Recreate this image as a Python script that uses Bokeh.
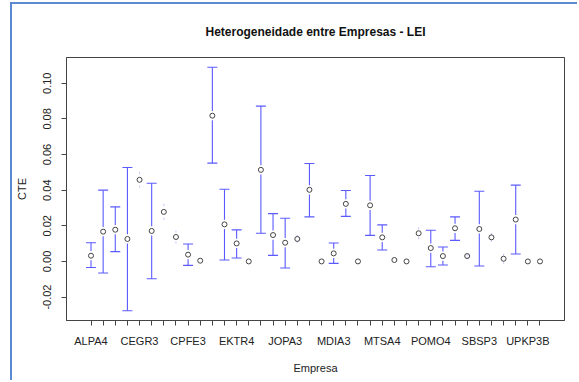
import numpy as np
from bokeh.plotting import figure
from bokeh.models import FixedTicker, Range1d, NumeralTickFormatter
from bokeh.embed import file_html
from bokeh.resources import INLINE

empresas = ["ALPA4", "AMAR3", "BRKM5", "CCRO3", "CEGR3", "CESP6", "CGAS5", "COCE5",
            "CPFE3", "CSMG3", "CSNA3", "EGIE3", "EKTR4", "ENBR3", "GGBR4", "ITSA4",
            "JOPA3", "KLBN11", "LIGT3", "LREN3", "MDIA3", "MGLU3", "MRFG3", "MRVE3",
            "MTSA4", "NATU3", "PETR4", "PNVL3", "POMO4", "RADL3", "RAPT4", "SAPR4",
            "SBSP3", "SULA11", "TAEE11", "TRPL4", "UPKP3B", "VALE3"]
media = [0.0032, 0.0167, 0.0178, 0.0126, 0.0458, 0.0171, 0.0278, 0.0137,
         0.0038, 0.0004, 0.0818, 0.0208, 0.0101, 0.0000, 0.0514, 0.0148,
         0.0105, 0.0126, 0.0402, 0.0000, 0.0045, 0.0323, 0.0000, 0.0315,
         0.0135, 0.0008, 0.0000, 0.0158, 0.0075, 0.0030, 0.0186, 0.0030,
         0.0182, 0.0135, 0.0015, 0.0235, 0.0000, 0.0000]
superior = [0.0105, 0.0400, 0.0306, 0.0527, 0.0503, 0.0439, 0.0323, 0.0174,
            0.0098, 0.0004, 0.1090, 0.0405, 0.0177, 0.0000, 0.0872, 0.0268,
            0.0242, 0.0148, 0.0550, 0.0000, 0.0103, 0.0398, 0.0000, 0.0482,
            0.0205, 0.0008, 0.0000, 0.0192, 0.0175, 0.0081, 0.0250, 0.0045,
            0.0394, 0.0159, 0.0043, 0.0428, 0.0000, 0.0000]
inferior = [-0.0034, -0.0065, 0.0055, -0.0277, 0.0413, -0.0097, 0.0233, 0.0100,
            -0.0022, 0.0004, 0.0552, 0.0008, 0.0019, 0.0000, 0.0158, 0.0034,
            -0.0037, 0.0104, 0.0250, 0.0000, -0.0011, 0.0253, 0.0000, 0.0146,
            0.0064, 0.0008, 0.0000, 0.0124, -0.0030, -0.0020, 0.0118, 0.0015,
            -0.0026, 0.0111, -0.0013, 0.0042, 0.0000, 0.0000]
y_ticks = [-0.02, 0.00, 0.02, 0.04, 0.06, 0.08, 0.10]

n = len(empresas)
x = np.arange(1, n + 1)
med = np.array(media)
sup = np.array(superior)
inf = np.array(inferior)

ylo, yhi = inf.min(), sup.max()
ypad = 0.04 * (yhi - ylo)
xpad = 0.04 * n

FONT = "Liberation Sans"
BLUE = "#5a5aff"

p = figure(width=567, height=378, output_backend="svg", toolbar_location=None,
           x_range=Range1d(0.5 - xpad, n + 0.5 + xpad),
           y_range=Range1d(ylo - ypad, yhi + ypad),
           min_border_left=51, min_border_right=15, min_border_top=53, min_border_bottom=62,
           title="Heterogeneidade entre Empresas - LEI")
p.margin = (2, 0, 0, 10)
p.styles = {"border-left": "2px solid #5b8ad0", "border-top": "2px solid #5b8ad0"}

p.grid.visible = False
p.outline_line_color = "#444444"
p.outline_line_width = 1
p.background_fill_color = "white"
p.border_fill_color = "white"

p.title.align = "center"
p.title.text_font = FONT
p.title.text_font_size = "12px"
p.title.text_font_style = "bold"
p.title.text_color = "#111111"
p.title.standoff = 26
p.title.padding = dict(top=0, right=0, bottom=6, left=0)

# error bars (with a gap around each mean, as in plotmeans)
gap = 0.0026
thr = 0.0049
full = (sup - med) > thr
faint = (~full) & ((sup - med) > 0)

p.segment(x0=x[full], y0=sup[full], x1=x[full], y1=med[full] + gap,
          line_color=BLUE, line_width=1.1)
p.segment(x0=x[full], y0=inf[full], x1=x[full], y1=med[full] - gap,
          line_color=BLUE, line_width=1.1)
p.scatter(x[full], sup[full], marker="dash", size=10, line_color=BLUE, line_width=1.1)
p.scatter(x[full], inf[full], marker="dash", size=10, line_color=BLUE, line_width=1.1)

p.segment(x0=x[faint], y0=sup[faint] - 0.0013, x1=x[faint], y1=sup[faint],
          line_color=BLUE, line_width=1.1, line_alpha=0.3)
p.segment(x0=x[faint], y0=inf[faint] + 0.0013, x1=x[faint], y1=inf[faint],
          line_color=BLUE, line_width=1.1, line_alpha=0.3)

p.scatter(x, med, marker="circle", size=5, fill_color=None,
          line_color="#444444", line_width=1)

# axes
xa = p.xaxis[0]
xa.ticker = FixedTicker(ticks=x.tolist())
xa.major_label_overrides = {int(i): (empresas[i - 1] if (i - 1) % 4 == 0 else "")
                            for i in x}
xa.axis_label = "Empresa"
ya = p.yaxis[0]
ya.ticker = FixedTicker(ticks=y_ticks)
ya.formatter = NumeralTickFormatter(format="0.00")
ya.major_label_orientation = "vertical"
ya.axis_label = "CTE"

for ax in (xa, ya):
    ax.axis_line_color = "#444444"
    ax.major_tick_line_color = "#444444"
    ax.major_tick_out = 5
    ax.major_tick_in = 0
    ax.minor_tick_line_color = None
    ax.major_label_text_font = FONT
    ax.major_label_text_font_size = "11px"
    ax.major_label_text_color = "#222222"
    ax.axis_label_text_font = FONT
    ax.axis_label_text_font_size = "11px"
    ax.axis_label_text_font_style = "normal"
    ax.axis_label_text_color = "#222222"

xa.major_label_standoff = 9
xa.axis_label_standoff = 12
ya.major_label_standoff = 10
ya.axis_label_standoff = 13

open("out.html", "w").write(file_html(p, INLINE))
